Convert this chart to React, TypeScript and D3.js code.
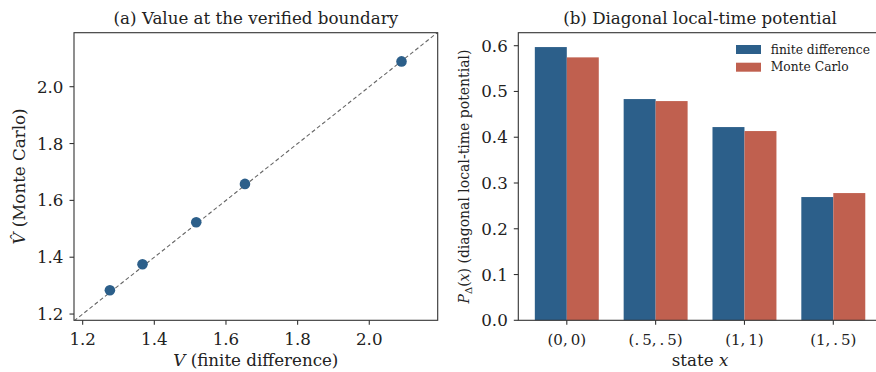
import React from "react";
import * as d3 from "d3";

const fdValues = [1.276, 1.367, 1.517, 1.653, 2.09];
const mcValues = [1.284, 1.375, 1.523, 1.658, 2.089];
const scatterTicks = [1.2, 1.4, 1.6, 1.8, 2.0];

const states = ["(0,\u20090)", "(.\u20095,\u2009.\u20095)", "(1,\u20091)", "(1,\u2009.\u20095)"];
const fdPotential = [0.597, 0.4834, 0.4222, 0.2693];
const mcPotential = [0.5745, 0.479, 0.4135, 0.278];
const barTicks = [0.0, 0.1, 0.2, 0.3, 0.4, 0.5, 0.6];
const seriesNames = ["finite difference", "Monte Carlo"];

const BLUE = "#2c5f8a";
const RED = "#c0604f";
const FONT = "DejaVu Serif";
const SPINE = "#333";
const TXT = "#222";

export default function App() {
  const W = 876, H = 372;
  // Left panel
  const L = { x0: 74, x1: 437.7, y0: 32.7, y1: 320.3 };
  const dMin = 1.1758, dMax = 2.191;
  const xs = d3.scaleLinear().domain([dMin, dMax]).range([L.x0, L.x1]);
  const ys = d3.scaleLinear().domain([1.178, 2.19]).range([L.y1, L.y0]);

  // Right panel
  const R = { x0: 518.3, x1: 881.8, y0: 32.7, y1: 320.3 };
  const xb = d3.scaleLinear().domain([-0.546, 3.546]).range([R.x0, R.x1]);
  const yb = d3.scaleLinear().domain([0, 0.6284]).range([R.y1, R.y0]);
  const bw = 0.36;

  const tickLen = 4.5;
  const fs = 16.7;

  return (
    <div style={{ position: "fixed", left: 0, top: 0 }}>
      <svg width={W} height={H} style={{ display: "block", background: "#fff", fontFamily: FONT }}>
        {/* ===== Panel (a) ===== */}
        <defs>
          <clipPath id="clipA">
            <rect x={L.x0} y={L.y0} width={L.x1 - L.x0} height={L.y1 - L.y0} />
          </clipPath>
        </defs>
        <line
          x1={xs(dMin)} y1={ys(dMin)} x2={xs(dMax)} y2={ys(dMax)}
          stroke="#666" strokeWidth={1.1} strokeDasharray="4,2.6" clipPath="url(#clipA)"
        />
        {fdValues.map((v, i) => (
          <circle key={i} cx={xs(v)} cy={ys(mcValues[i])} r={5.3} fill={BLUE} />
        ))}
        <rect x={L.x0} y={L.y0} width={L.x1 - L.x0} height={L.y1 - L.y0} fill="none" stroke={SPINE} strokeWidth={1.1} />
        {scatterTicks.map((t) => (
          <g key={"xa" + t}>
            <line x1={xs(t)} x2={xs(t)} y1={L.y1} y2={L.y1 + tickLen} stroke={SPINE} strokeWidth={1.1} />
            <text x={xs(t)} y={L.y1 + 25} fontSize={fs} textAnchor="middle" fill={TXT}>{t.toFixed(1)}</text>
          </g>
        ))}
        {scatterTicks.map((t) => (
          <g key={"ya" + t}>
            <line x1={L.x0 - tickLen} x2={L.x0} y1={ys(t)} y2={ys(t)} stroke={SPINE} strokeWidth={1.1} />
            <text x={L.x0 - 10.5} y={ys(t) + 6} fontSize={fs} textAnchor="end" fill={TXT}>{t.toFixed(1)}</text>
          </g>
        ))}
        <text x={(L.x0 + L.x1) / 2} y={24} fontSize={fs} textAnchor="middle" fill={TXT}>
          (a) Value at the verified boundary
        </text>
        <text x={(L.x0 + L.x1) / 2} y={366} fontSize={fs} textAnchor="middle" fill={TXT}>
          <tspan fontStyle="italic">V</tspan> (finite difference)
        </text>
        <text transform={`translate(25,${(L.y0 + L.y1) / 2}) rotate(-90)`} fontSize={fs} textAnchor="middle" fill={TXT}>
          <tspan fontStyle="italic">V̂</tspan> (Monte Carlo)
        </text>

        {/* ===== Panel (b) ===== */}
        {states.map((s, i) => (
          <g key={"bar" + i}>
            <rect x={xb(i - bw)} y={yb(fdPotential[i])} width={xb(i) - xb(i - bw)} height={yb(0) - yb(fdPotential[i])} fill={BLUE} />
            <rect x={xb(i)} y={yb(mcPotential[i])} width={xb(i + bw) - xb(i)} height={yb(0) - yb(mcPotential[i])} fill={RED} />
          </g>
        ))}
        <rect x={R.x0} y={R.y0} width={R.x1 - R.x0} height={R.y1 - R.y0} fill="none" stroke={SPINE} strokeWidth={1.1} />
        {states.map((s, i) => (
          <g key={"xb" + i}>
            <line x1={xb(i)} x2={xb(i)} y1={R.y1} y2={R.y1 + tickLen} stroke={SPINE} strokeWidth={1.1} />
            <text x={xb(i)} y={R.y1 + 24.5} fontSize={15} textAnchor="middle" fill={TXT}>{s}</text>
          </g>
        ))}
        {barTicks.map((t) => (
          <g key={"yb" + t}>
            <line x1={R.x0 - tickLen} x2={R.x0} y1={yb(t)} y2={yb(t)} stroke={SPINE} strokeWidth={1.1} />
            <text x={R.x0 - 10.5} y={yb(t) + 6} fontSize={fs} textAnchor="end" fill={TXT}>{t.toFixed(1)}</text>
          </g>
        ))}
        <text x={(R.x0 + R.x1) / 2} y={24} fontSize={fs} textAnchor="middle" fill={TXT}>
          (b) Diagonal local-time potential
        </text>
        <text x={(R.x0 + R.x1) / 2} y={366} fontSize={fs} textAnchor="middle" fill={TXT}>
          state <tspan fontStyle="italic">x</tspan>
        </text>
        <text transform={`translate(469,${(R.y0 + R.y1) / 2}) rotate(-90)`} fontSize={14} textAnchor="middle" fill={TXT}>
          <tspan fontStyle="italic">P</tspan><tspan fontSize={10} dy={3}>Δ</tspan><tspan dy={-3}>(</tspan><tspan fontStyle="italic">x</tspan>) (diagonal local-time potential)
        </text>
        {seriesNames.map((n, i) => (
          <g key={"lg" + i}>
            <rect x={736} y={45 + i * 17.7} width={25} height={9} fill={i === 0 ? BLUE : RED} />
            <text x={770.7} y={53.5 + i * 17.7} fontSize={12.3} fill={TXT}>{n}</text>
          </g>
        ))}
      </svg>
    </div>
  );
}
